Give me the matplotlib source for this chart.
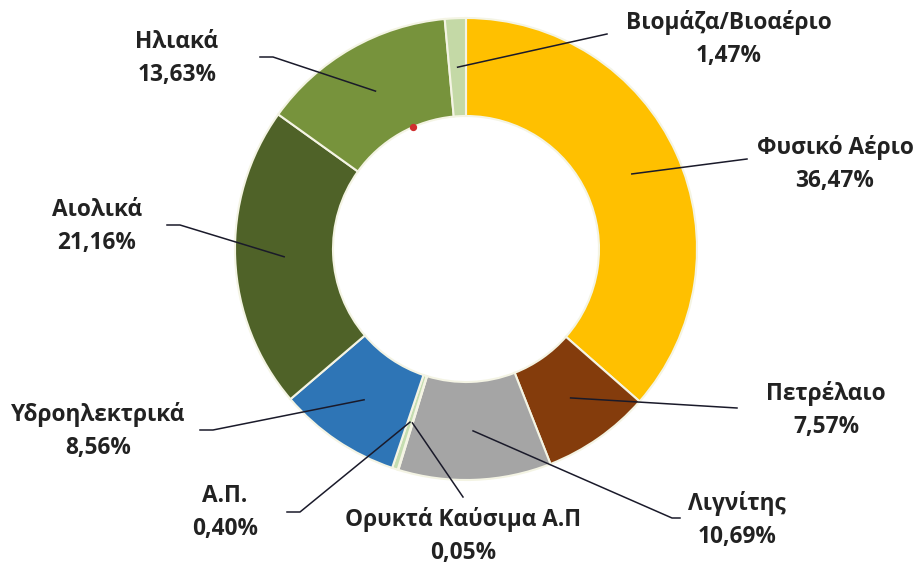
import matplotlib.pyplot as plt
import numpy as np

labels = ['Φυσικό Αέριο', 'Πετρέλαιο', 'Λιγνίτης', 'Ορυκτά Καύσιμα Α.Π', 'Α.Π.',
          'Υδροηλεκτρικά', 'Αιολικά', 'Ηλιακά', 'Βιομάζα/Βιοαέριο']
values = [36.47, 7.57, 10.69, 0.05, 0.40, 8.56, 21.16, 13.63, 1.47]
colors = ['#FFC000', '#843C0C', '#A5A5A5', '#D9E5C3', '#C5DDB0',
          '#2E75B6', '#4F6228', '#77933C', '#C4D9A6']

W, H = 919, 568
cx, cy = 466, 249          # pixel coords, y from top
R, r_in = 231, 133

# label centre, elbow point, end point (pixels, y from top)
label_pos = [(835, 164), (826, 410), (737, 520), (463, 536), (225, 513),
             (98, 431), (97, 227), (177, 58), (729, 39)]
elbows = [(747, 159), (737, 408), (672, 518), (463, 497), (300, 512),
          (213, 430), (180, 225), (273, 57), (607, 34)]
ends = [(747, 159), (737, 408), (680, 518), (463, 497), (287, 512),
        (200, 430), (167, 225), (260, 57), (607, 34)]

plt.rcParams['font.family'] = ['Open Sans', 'DejaVu Sans']

fig = plt.figure(figsize=(W / 100, H / 100), dpi=100)
ax = fig.add_axes([0, 0, 1, 1])
ax.set_xlim(0, W)
ax.set_ylim(0, H)
ax.set_aspect('equal')
ax.axis('off')


def py(y):
    return H - y


wedges, _ = ax.pie(values, colors=colors, startangle=90, counterclock=False,
                   center=(cx, py(cy)), radius=R,
                   wedgeprops=dict(width=R - r_in, edgecolor='#F4F4E4', linewidth=1.5))
ax.set_xlim(0, W)
ax.set_ylim(0, H)

mid_r = (R + r_in) / 2
for w, lab, v, lp, el, en in zip(wedges, labels, values, label_pos, elbows, ends):
    ang = np.deg2rad((w.theta1 + w.theta2) / 2)
    x0 = cx + mid_r * np.cos(ang)
    y0 = py(cy) + mid_r * np.sin(ang)
    ax.plot([x0, el[0], en[0]], [y0, py(el[1]), py(en[1])], color='#1a1a2a', lw=1.1)
    txt = lab + '\n' + ('%.2f%%' % v).replace('.', ',')
    ax.text(lp[0], py(lp[1]), txt, ha='center', va='center', fontsize=16.3,
            fontweight='bold', color='#222222', linespacing=1.5)

ax.scatter([413], [py(127)], s=18, color='#D03030', zorder=5)

fig.savefig('out.png', dpi=100)
